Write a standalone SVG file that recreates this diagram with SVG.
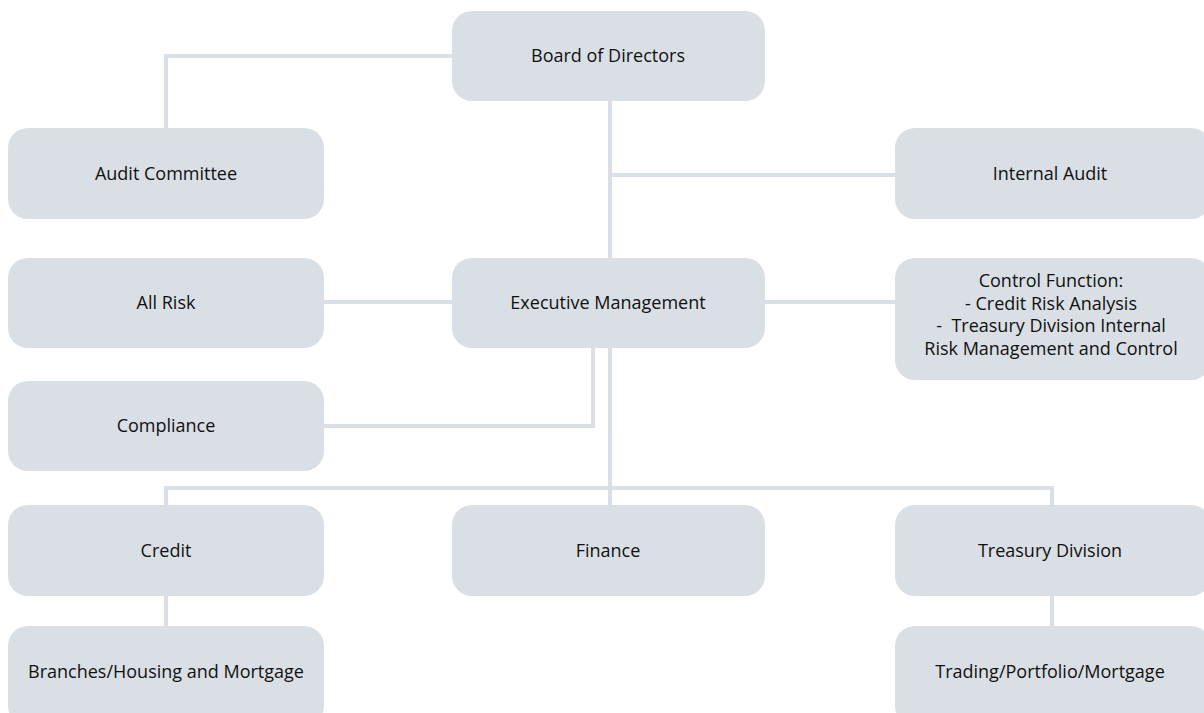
<svg xmlns="http://www.w3.org/2000/svg" width="1204" height="713" viewBox="0 0 1204 713">
<style>
.box{fill:#d9dfe5;}
.ln{fill:none;stroke:#d9dfe5;stroke-width:4;}
text{font-family:"Open Sans","Liberation Sans",sans-serif;font-size:18px;fill:#111;text-anchor:middle;}
</style>
<rect width="1204" height="713" fill="#fff"/>
<g id="connectors">
<polyline class="ln" points="452,56 166,56 166,128"/>
<line class="ln" x1="610" y1="100" x2="610" y2="258"/>
<line class="ln" x1="610" y1="175" x2="895" y2="175"/>
<line class="ln" x1="324" y1="302" x2="452" y2="302"/>
<line class="ln" x1="765" y1="302" x2="895" y2="302"/>
<polyline class="ln" points="324,426 593,426 593,348"/>
<line class="ln" x1="610" y1="348" x2="610" y2="505"/>
<polyline class="ln" points="166,505 166,488 1052,488 1052,505"/>
<line class="ln" x1="166" y1="596" x2="166" y2="626"/>
<line class="ln" x1="1052" y1="596" x2="1052" y2="626"/>
</g>
<g id="board"><rect class="box" x="452" y="11" width="313" height="90" rx="20"/><text x="608" y="62">Board of Directors</text></g>
<g id="audit-committee"><rect class="box" x="8" y="128" width="316" height="91" rx="20"/><text x="166" y="180">Audit Committee</text></g>
<g id="internal-audit"><rect class="box" x="895" y="128" width="316" height="91" rx="20"/><text x="1050" y="180">Internal Audit</text></g>
<g id="all-risk"><rect class="box" x="8" y="258" width="316" height="90" rx="20"/><text x="166" y="309">All Risk</text></g>
<g id="exec"><rect class="box" x="452" y="258" width="313" height="90" rx="20"/><text x="608" y="309">Executive Management</text></g>
<g id="control"><rect class="box" x="895" y="258" width="316" height="122" rx="20"/>
<text x="1051" y="287">Control Function:</text>
<text x="1051" y="309.5">- Credit Risk Analysis</text>
<text x="1051" y="332" xml:space="preserve">-  Treasury Division Internal</text>
<text x="1051" y="354.5">Risk Management and Control</text></g>
<g id="compliance"><rect class="box" x="8" y="381" width="316" height="90" rx="20"/><text x="166" y="432">Compliance</text></g>
<g id="credit"><rect class="box" x="8" y="505" width="316" height="91" rx="20"/><text x="166" y="557">Credit</text></g>
<g id="finance"><rect class="box" x="452" y="505" width="313" height="91" rx="20"/><text x="608" y="557">Finance</text></g>
<g id="treasury"><rect class="box" x="895" y="505" width="316" height="91" rx="20"/><text x="1050" y="557">Treasury Division</text></g>
<g id="branches"><rect class="box" x="8" y="626" width="316" height="100" rx="20"/><text x="166" y="678">Branches/Housing and Mortgage</text></g>
<g id="trading"><rect class="box" x="895" y="626" width="316" height="100" rx="20"/><text x="1050" y="678">Trading/Portfolio/Mortgage</text></g>
</svg>
